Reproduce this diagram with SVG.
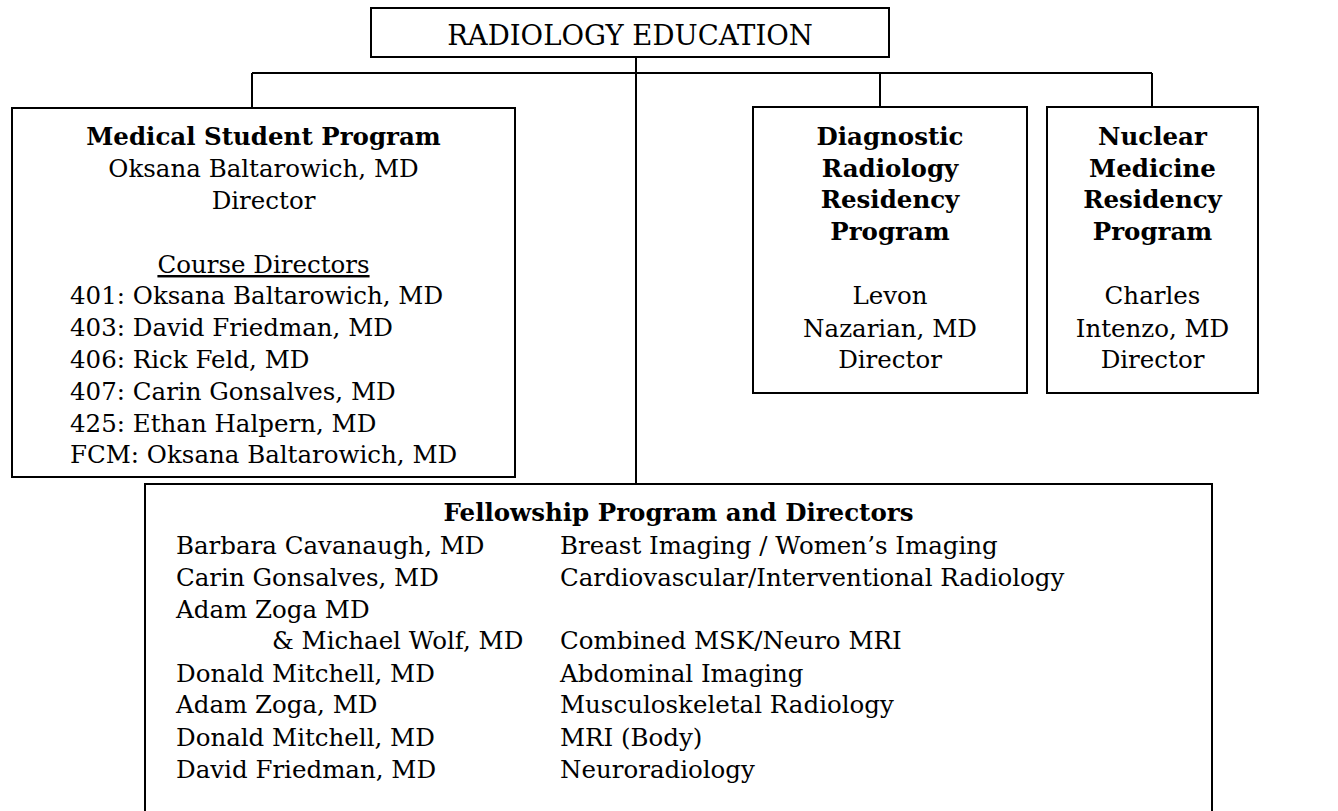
<svg xmlns="http://www.w3.org/2000/svg" width="1338" height="811" viewBox="0 0 1338 811">
<style>
.box{fill:#fff;stroke:#000;stroke-width:2}
.ln{fill:none;stroke:#000;stroke-width:2}
text{font-family:"DejaVu Serif","Liberation Serif",serif;font-size:24.5px;fill:#000}
.c{text-anchor:middle}
.b{font-weight:bold}
.t{font-size:27.5px}
</style>
<rect width="1338" height="811" fill="#fff"/>
<g id="connectors">
<path class="ln" d="M252,73 H1152 M252,73 V108 M880,73 V107 M1152,73 V107 M636,57 V484"/>
</g>
<g id="top">
<rect class="box" x="371" y="8" width="518" height="49"/>
<text class="c t" x="630" y="45">RADIOLOGY EDUCATION</text>
</g>
<g id="medical">
<rect class="box" x="12" y="108" width="503" height="369"/>
<text class="c b" x="263.5" y="145">Medical Student Program</text>
<text class="c" x="263.5" y="177">Oksana Baltarowich, MD</text>
<text class="c" x="263.5" y="209">Director</text>
<text class="c" x="263.5" y="273" text-decoration="underline">Course Directors</text>
<text x="70" y="304">401: Oksana Baltarowich, MD</text>
<text x="70" y="336">403: David Friedman, MD</text>
<text x="70" y="368">406: Rick Feld, MD</text>
<text x="70" y="400">407: Carin Gonsalves, MD</text>
<text x="70" y="432">425: Ethan Halpern, MD</text>
<text x="70" y="463">FCM: Oksana Baltarowich, MD</text>
</g>
<g id="diagnostic">
<rect class="box" x="753" y="107" width="274" height="286"/>
<text class="c b" x="890" y="145">Diagnostic</text>
<text class="c b" x="890" y="177">Radiology</text>
<text class="c b" x="890" y="208">Residency</text>
<text class="c b" x="890" y="240">Program</text>
<text class="c" x="890" y="304">Levon</text>
<text class="c" x="890" y="337">Nazarian, MD</text>
<text class="c" x="890" y="368">Director</text>
</g>
<g id="nuclear">
<rect class="box" x="1047" y="107" width="211" height="286"/>
<text class="c b" x="1152.5" y="145">Nuclear</text>
<text class="c b" x="1152.5" y="177">Medicine</text>
<text class="c b" x="1152.5" y="208">Residency</text>
<text class="c b" x="1152.5" y="240">Program</text>
<text class="c" x="1152.5" y="304">Charles</text>
<text class="c" x="1152.5" y="337">Intenzo, MD</text>
<text class="c" x="1152.5" y="368">Director</text>
</g>
<g id="fellowship">
<rect class="box" x="145" y="484" width="1067" height="340"/>
<text class="c b" x="678.5" y="521">Fellowship Program and Directors</text>
<text x="176" y="554">Barbara Cavanaugh, MD</text>
<text x="176" y="586">Carin Gonsalves, MD</text>
<text x="176" y="618">Adam Zoga MD</text>
<text x="272" y="649">&amp; Michael Wolf, MD</text>
<text x="176" y="682">Donald Mitchell, MD</text>
<text x="176" y="713">Adam Zoga, MD</text>
<text x="176" y="746">Donald Mitchell, MD</text>
<text x="176" y="778">David Friedman, MD</text>
<text x="560" y="554">Breast Imaging / Women’s Imaging</text>
<text x="560" y="586">Cardiovascular/Interventional Radiology</text>
<text x="560" y="649">Combined MSK/Neuro MRI</text>
<text x="560" y="682">Abdominal Imaging</text>
<text x="560" y="713">Musculoskeletal Radiology</text>
<text x="560" y="746">MRI (Body)</text>
<text x="560" y="778">Neuroradiology</text>
</g>
</svg>
